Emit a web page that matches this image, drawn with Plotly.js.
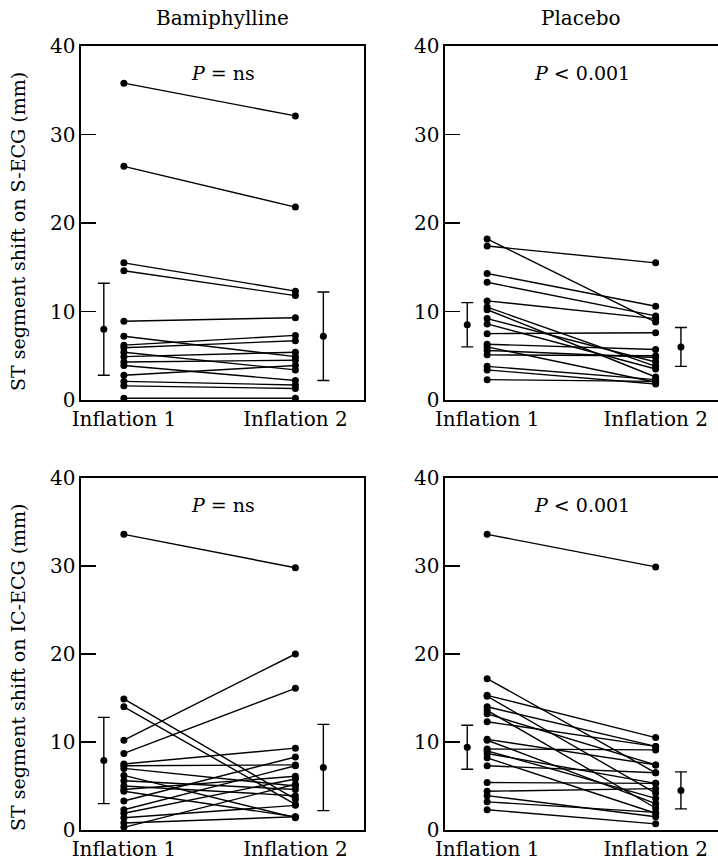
<!DOCTYPE html>
<html>
<head>
<meta charset="utf-8">
<script src="https://cdn.plot.ly/plotly-3.0.1.min.js"></script>
<style>html,body{margin:0;padding:0;background:#fff;}#chart{width:718px;height:864px;}</style>
</head>
<body>
<div id="chart"></div>
<script>
// ---- Data ----
const xCategories = ["Inflation 1", "Inflation 2"];
const columnTitles = ["Bamiphylline", "Placebo"];
const rowTitles = ["ST segment shift on S-ECG (mm)", "ST segment shift on IC-ECG (mm)"];
const pLabels = ["<i>P</i> = ns", "<i>P</i> &lt; 0.001", "<i>P</i> = ns", "<i>P</i> &lt; 0.001"];
const yTicks = [0, 10, 20, 30, 40];

// Panel A: Bamiphylline, S-ECG
const bamiSecgInf1 = [35.8, 26.4, 15.5, 14.6, 8.9, 7.2, 6.2, 5.9, 5.4, 4.9, 4.3, 3.9, 2.8, 2.1, 1.6, 0.2];
const bamiSecgInf2 = [32.1, 21.8, 12.3, 11.8, 9.3, 4.9, 7.3, 6.7, 3.4, 5.4, 4.5, 2.2, 3.9, 1.7, 1.3, 0.2];
// Panel B: Placebo, S-ECG
const placSecgInf1 = [18.2, 17.4, 14.3, 13.3, 11.2, 10.5, 10.2, 9.2, 8.6, 7.5, 6.3, 6.0, 5.6, 5.1, 3.8, 3.4, 2.3];
const placSecgInf2 = [8.8, 15.5, 10.6, 9.5, 9.2, 3.8, 2.6, 4.3, 3.5, 7.6, 5.7, 2.0, 4.8, 5.0, 2.3, 1.8, 2.1];
// Panel C: Bamiphylline, IC-ECG
const bamiIcInf1 = [33.6, 14.9, 14.0, 10.2, 8.7, 7.5, 7.3, 7.0, 6.2, 5.6, 5.0, 4.6, 4.4, 3.3, 2.3, 1.9, 1.4, 0.8, 0.3];
const bamiIcInf2 = [29.8, 3.5, 2.9, 20.0, 16.1, 9.3, 7.4, 5.0, 1.4, 4.6, 3.9, 6.1, 1.5, 8.3, 7.3, 5.8, 2.8, 1.5, 5.2];
// Panel D: Placebo, IC-ECG
const placIcInf1 = [33.6, 17.2, 15.3, 15.2, 14.0, 13.6, 13.2, 12.3, 10.3, 10.2, 9.2, 9.0, 8.7, 8.2, 7.3, 5.4, 4.4, 3.9, 3.2, 2.3];
const placIcInf2 = [29.9, 6.5, 10.5, 4.2, 9.5, 2.5, 7.4, 9.5, 7.4, 3.0, 9.1, 3.6, 5.3, 1.9, 6.5, 5.3, 4.7, 1.5, 2.0, 0.7];

// Mean ± SD per panel (A, B, C, D)
const meanInf1 = [8.0, 8.5, 7.9, 9.4];
const sdInf1   = [5.2, 2.5, 4.9, 2.5];
const meanInf2 = [7.2, 6.0, 7.1, 4.5];
const sdInf2   = [5.0, 2.2, 4.9, 2.1];

// ---- Build figure ----
const panels = [
  {inf1: bamiSecgInf1, inf2: bamiSecgInf2},
  {inf1: placSecgInf1, inf2: placSecgInf2},
  {inf1: bamiIcInf1, inf2: bamiIcInf2},
  {inf1: placIcInf1, inf2: placIcInf2}
];
const W = 718, H = 864;
const xDom = [[81 / W, 364 / W], [445 / W, 1]];
const yDom = [[1 - 400 / H, 1 - 46 / H], [1 - 830 / H, 1 - 478 / H]];
const xRange = [[0.75, 2.40], [0.75, 2.37]];
const errPos = [[0.883, 2.163], [0.882, 2.15]];

const traces = [];
const layout = {
  width: W, height: H,
  margin: {l: 0, r: 0, t: 0, b: 0},
  paper_bgcolor: "#fff", plot_bgcolor: "#fff",
  showlegend: false,
  font: {family: "DejaVu Serif, serif", size: 18, color: "#000"},
  annotations: []
};

panels.forEach((p, i) => {
  const col = i % 2, row = Math.floor(i / 2);
  const xa = i === 0 ? "x" : "x" + (i + 1);
  const ya = i === 0 ? "y" : "y" + (i + 1);
  const xs = [], ys = [];
  p.inf1.forEach((v, k) => { xs.push(1, 2, null); ys.push(v, p.inf2[k], null); });
  traces.push({
    type: "scatter", mode: "lines+markers", x: xs, y: ys, xaxis: xa, yaxis: ya,
    line: {color: "#000", width: 1.4}, marker: {color: "#000", size: 7},
    connectgaps: false, hoverinfo: "skip", cliponaxis: false
  });
  traces.push({
    type: "scatter", mode: "markers", x: [errPos[col][0], errPos[col][1]],
    y: [meanInf1[i], meanInf2[i]], xaxis: xa, yaxis: ya,
    marker: {color: "#000", size: 7},
    error_y: {type: "data", array: [sdInf1[i], sdInf2[i]], color: "#000", thickness: 1.4, width: 6},
    hoverinfo: "skip"
  });
  const xk = i === 0 ? "xaxis" : "xaxis" + (i + 1);
  const yk = i === 0 ? "yaxis" : "yaxis" + (i + 1);
  layout[xk] = {
    domain: xDom[col], anchor: ya, range: xRange[col],
    tickmode: "array", tickvals: [1, 2], ticktext: xCategories, ticks: "",
    tickfont: {size: 20}, showgrid: false, zeroline: false,
    showline: true, linecolor: "#000", linewidth: 1.6, mirror: true, fixedrange: true
  };
  layout[yk] = {
    domain: yDom[row], anchor: xa, range: [0, 40],
    tickmode: "array", tickvals: yTicks, ticks: "inside", ticklen: 15, tickwidth: 1.6, tickcolor: "#000",
    tickfont: {size: 20}, showgrid: false, zeroline: false,
    showline: true, linecolor: "#000", linewidth: 1.6, mirror: col === 0, fixedrange: true
  };
  layout.annotations.push({
    xref: "paper", yref: ya, x: (xDom[col][0] + (col === 0 ? xDom[col][1] : 718 / W)) / 2, y: 36.9,
    text: pLabels[i], showarrow: false, font: {size: 19}, xanchor: "center", yanchor: "middle"
  });
});

columnTitles.forEach((t, c) => {
  layout.annotations.push({
    xref: "paper", yref: "paper", x: c === 0 ? 222 / W : 581 / W, y: 1 - 18 / H,
    text: t, showarrow: false, font: {size: 20}, xanchor: "center", yanchor: "middle"
  });
});
rowTitles.forEach((t, r) => {
  layout.annotations.push({
    xref: "paper", yref: "paper", x: 18 / W, y: r === 0 ? 1 - 232 / H : 1 - 667 / H,
    text: t, textangle: -90, showarrow: false, font: {size: 19}, xanchor: "center", yanchor: "middle"
  });
});

Plotly.newPlot("chart", traces, layout, {staticPlot: true});
</script>
</body>
</html>
